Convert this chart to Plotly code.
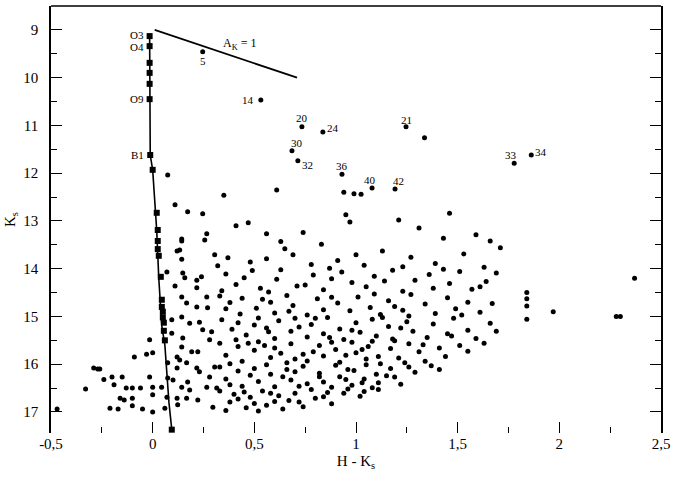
import plotly.graph_objects as go

# ---- ZAMS (line) and spectral-type squares ----
zams_x = [-0.015, -0.015, -0.012, 0.0, 0.02, 0.03, 0.045, 0.06, 0.07, 0.08, 0.094]
zams_y = [9.1, 10.45, 11.62, 11.93, 13.2, 14.2, 15.2, 15.6, 16.3, 16.8, 17.37]

sq_x = [-0.015, -0.015, -0.015, -0.015, -0.015, -0.015, -0.012, 0.0, 0.02, 0.025, 0.025,
        0.025, 0.03, 0.04, 0.045, 0.045, 0.05, 0.05, 0.055, 0.055, 0.06, 0.094]
sq_y = [9.13, 9.34, 9.69, 9.9, 10.13, 10.45, 11.62, 11.93, 12.83, 13.19, 13.42,
        13.59, 13.73, 14.17, 14.65, 14.8, 14.9, 15.02, 15.13, 15.3, 15.5, 17.37]

sp_labels = ["O3", "O4", "O9", "B1"]
sp_x = [-0.015, -0.015, -0.015, -0.012]
sp_y = [9.13, 9.34, 10.45, 11.62]

# ---- reddening vector ----
red_x = [0.01, 0.71]
red_y = [9.0, 10.0]

# ---- labelled stars ----
lab_names = ["5", "14", "20", "24", "30", "32", "36", "40", "42", "21", "33", "34"]
lab_x = [0.246, 0.532, 0.734, 0.837, 0.685, 0.714, 0.931, 1.079, 1.192, 1.246, 1.778, 1.862]
lab_y = [9.46, 10.47, 11.03, 11.14, 11.53, 11.74, 12.02, 12.31, 12.33, 11.03, 11.79, 11.62]

# ---- field stars near the ZAMS (H-K, Ks) ----
blue_x = [0.074, 0.11, 0.172, 0.246, 0.266, 0.256, 0.143, 0.143, 0.133, 0.12, 0.143, 0.305,
          0.07, 0.148, 0.158, 0.217, 0.24, 0.11, 0.217, 0.266, 0.143, 0.167, 0.217, 0.27,
          0.094, 0.143, 0.182, 0.246, 0.29, 0.23, 0.094, -0.015, 0.148, 0.28, 0.143, 0.192,
          0.222, -0.03, 0.0, -0.09, 0.12, 0.074, 0.133, 0.167, 0.305, 0.12, 0.217, -0.26,
          -0.2, -0.15, 0.23, 0.28, 0.074, 0.1, 0.172, -0.19, -0.13, -0.1, -0.06, -0.015,
          0.0, 0.044, 0.143, 0.182, 0.266, 0.315, -0.16, -0.14, -0.1, 0.0, 0.07, 0.12,
          0.167, 0.222, -0.21, -0.17, -0.1, -0.05, 0.0, 0.06, 0.123, 0.296, -0.47,
          -0.33, -0.29, -0.27, -0.24]
blue_y = [12.04, 12.66, 12.81, 12.85, 13.27, 13.4, 13.38, 13.42, 13.61, 13.63, 13.8, 13.71,
          14.07, 14.09, 14.19, 14.24, 14.17, 14.36, 14.4, 14.59, 14.59, 14.72, 14.8, 14.82,
          15.07, 15.01, 15.14, 15.28, 15.32, 15.12, 15.35, 15.49, 15.45, 15.49, 15.64, 15.74,
          15.74, 15.79, 15.76, 15.85, 15.85, 15.97, 15.91, 15.97, 16.06, 16.08, 16.08, 16.1,
          16.27, 16.27, 16.16, 16.27, 16.29, 16.33, 16.37, 16.43, 16.5, 16.5, 16.5, 16.27,
          16.48, 16.48, 16.48, 16.54, 16.48, 16.5, 16.71, 16.75, 16.71, 16.64, 16.69, 16.71,
          16.71, 16.75, 16.92, 16.94, 16.87, 16.94, 17.0, 16.92, 16.85, 16.9, 16.94,
          16.52, 16.08, 16.1, 16.32]

# ---- redder field stars, as (H-K, Ks) pairs by magnitude band ----
band_upper = [(1.337, 11.26), (1.025, 12.44), (0.61, 12.35), (0.35, 12.46), (0.94, 12.40),
              (0.99, 12.43), (0.95, 12.87), (0.97, 13.02), (1.21, 12.98), (1.46, 12.84),
              (0.47, 13.04), (0.41, 13.1), (0.56, 13.27), (1.59, 13.29), (0.83, 13.49),
              (0.63, 13.43), (1.43, 13.36), (0.65, 13.58), (0.69, 13.71), (1.71, 13.56),
              (1.27, 13.76), (1.13, 13.63), (1.53, 13.69), (0.37, 13.77), (0.48, 13.86),
              (0.56, 13.79), (0.78, 13.91), (0.91, 13.83), (1.04, 13.93), (1.23, 13.96),
              (1.39, 13.89), (1.63, 13.97), (0.32, 13.94), (0.87, 13.99), (1.66, 13.42),
              (1.0, 13.71), (0.74, 13.24), (1.31, 13.15)]
band_14 = [(0.36, 14.11), (0.41, 14.33), (0.49, 14.04), (0.53, 14.41), (0.61, 14.22),
           (0.63, 14.02), (0.71, 14.36), (0.79, 14.13), (0.84, 14.44), (0.93, 14.07),
           (0.98, 14.29), (1.05, 14.38), (1.09, 14.16), (1.18, 14.03), (1.23, 14.47),
           (1.29, 14.24), (1.36, 14.12), (1.38, 14.41), (1.46, 14.31), (1.51, 14.06),
           (1.57, 14.43), (1.64, 14.27), (1.69, 14.09), (0.34, 14.46), (0.45, 14.19),
           (0.57, 14.49), (0.75, 14.34), (0.88, 14.21), (1.14, 14.26), (1.61, 14.38),
           (1.84, 14.5), (2.37, 14.2), (1.43, 14.01)]
band_145 = [(0.33, 14.57), (0.38, 14.71), (0.44, 14.62), (0.51, 14.83), (0.54, 14.64),
            (0.6, 14.93), (0.66, 14.56), (0.69, 14.77), (0.76, 14.97), (0.81, 14.63),
            (0.84, 14.86), (0.91, 14.72), (0.97, 14.88), (1.01, 14.59), (1.07, 14.81),
            (1.12, 14.96), (1.16, 14.67), (1.23, 14.87), (1.27, 14.54), (1.34, 14.74),
            (1.39, 14.94), (1.45, 14.61), (1.49, 14.84), (1.55, 14.7), (1.61, 14.91),
            (1.67, 14.73), (1.84, 14.63), (1.84, 14.78), (1.97, 14.9), (0.43, 14.95),
            (0.67, 14.89), (1.26, 14.99), (0.36, 14.84), (1.09, 14.53), (0.58, 14.7),
            (0.88, 14.6), (1.19, 14.79), (1.52, 14.97)]
band_15 = [(0.34, 15.07), (0.39, 15.27), (0.42, 15.13), (0.46, 15.39), (0.52, 15.03),
           (0.56, 15.24), (0.6, 15.46), (0.62, 15.09), (0.68, 15.31), (0.7, 15.04),
           (0.76, 15.43), (0.78, 15.17), (0.84, 15.36), (0.86, 15.02), (0.92, 15.26),
           (0.94, 15.48), (1.0, 15.13), (1.02, 15.33), (1.08, 15.06), (1.1, 15.41),
           (1.16, 15.21), (1.18, 15.47), (1.25, 15.11), (1.28, 15.31), (1.35, 15.44),
           (1.38, 15.16), (1.45, 15.36), (1.48, 15.04), (1.55, 15.29), (1.59, 15.46),
           (1.66, 15.14), (1.69, 15.31), (1.84, 15.06), (2.28, 15.0), (2.3, 15.0),
           (0.41, 15.49), (0.72, 15.22), (0.98, 15.29), (1.22, 15.24), (1.47, 15.41),
           (0.57, 15.32), (0.87, 15.44), (0.5, 15.18), (0.8, 15.04), (1.13, 15.02)]
band_155 = [(0.33, 15.56), (0.36, 15.81), (0.42, 15.63), (0.44, 15.94), (0.5, 15.71),
            (0.52, 15.53), (0.58, 15.86), (0.6, 15.66), (0.66, 15.97), (0.68, 15.57),
            (0.74, 15.79), (0.76, 15.93), (0.82, 15.61), (0.84, 15.83), (0.9, 15.69),
            (0.92, 15.96), (0.98, 15.54), (1.0, 15.76), (1.05, 15.89), (1.06, 15.63),
            (1.11, 15.84), (1.12, 15.99), (1.17, 15.67), (1.21, 15.87), (1.26, 15.57),
            (1.31, 15.74), (1.34, 15.94), (1.41, 15.66), (1.44, 15.84), (1.51, 15.61),
            (1.55, 15.73), (1.63, 15.56), (0.38, 15.99), (0.55, 15.61), (0.7, 15.89),
            (0.88, 15.54), (1.03, 15.69), (1.19, 15.51), (1.33, 15.59), (0.47, 15.56),
            (0.79, 15.74), (0.95, 15.81), (1.08, 15.52), (0.63, 15.77), (1.24, 15.97)]
band_16 = [(0.33, 16.06), (0.36, 16.31), (0.42, 16.14), (0.44, 16.46), (0.5, 16.09),
           (0.52, 16.36), (0.58, 16.21), (0.6, 16.47), (0.66, 16.11), (0.68, 16.33),
           (0.74, 16.04), (0.76, 16.41), (0.82, 16.19), (0.84, 16.37), (0.9, 16.02),
           (0.92, 16.26), (0.98, 16.44), (0.99, 16.13), (1.04, 16.31), (1.05, 16.01),
           (1.1, 16.21), (1.11, 16.39), (1.17, 16.09), (1.19, 16.27), (1.26, 16.06),
           (1.29, 16.17), (1.37, 16.03), (1.41, 16.11), (0.38, 16.43), (0.56, 16.01),
           (0.72, 16.46), (0.82, 16.26), (0.96, 16.11), (1.08, 16.49), (1.15, 16.24),
           (0.64, 16.26), (0.48, 16.23), (1.03, 16.39), (0.88, 16.48), (0.7, 16.16),
           (1.22, 16.42), (0.95, 16.32)]
band_165 = [(0.33, 16.56), (0.38, 16.79), (0.4, 16.63), (0.46, 16.91), (0.48, 16.69),
            (0.54, 16.56), (0.56, 16.86), (0.62, 16.66), (0.64, 16.94), (0.7, 16.61),
            (0.72, 16.79), (0.78, 16.53), (0.8, 16.71), (0.86, 16.59), (0.88, 16.83),
            (0.94, 16.61), (0.96, 16.52), (1.02, 16.67), (1.04, 16.57), (1.11, 16.53),
            (0.42, 16.73), (0.58, 16.61), (0.74, 16.89), (0.52, 16.98), (0.36, 16.97),
            (0.67, 16.76), (0.5, 16.82), (0.6, 16.78), (0.84, 16.68), (0.45, 16.58)]

red_pts = band_upper + band_14 + band_145 + band_15 + band_155 + band_16 + band_165
red_side_x = [p[0] for p in red_pts]
red_side_y = [p[1] for p in red_pts]

FONT = "Liberation Serif"

fig = go.Figure()

fig.add_trace(go.Scatter(x=zams_x, y=zams_y, mode="lines",
                         line=dict(color="black", width=1.6), hoverinfo="skip"))
fig.add_trace(go.Scatter(x=sq_x, y=sq_y, mode="markers",
                         marker=dict(symbol="square", size=6, color="black")))
fig.add_trace(go.Scatter(x=red_x, y=red_y, mode="lines",
                         line=dict(color="black", width=1.8)))
fig.add_trace(go.Scatter(x=blue_x, y=blue_y, mode="markers",
                         marker=dict(symbol="circle", size=5, color="black")))
fig.add_trace(go.Scatter(x=red_side_x, y=red_side_y, mode="markers",
                         marker=dict(symbol="circle", size=5, color="black")))
fig.add_trace(go.Scatter(x=lab_x, y=lab_y, mode="markers",
                         marker=dict(symbol="circle", size=5, color="black")))

# spectral type labels
sp_dy = {"O3": 1, "O4": -1, "O9": 0, "B1": 0}
for t, x, y in zip(sp_labels, sp_x, sp_y):
    fig.add_annotation(x=x, y=y, text=t, showarrow=False, xanchor="right", xshift=-4,
                       yshift=sp_dy[t], font=dict(family=FONT, size=11, color="black"))

# star number labels (offsets in pixels)
offs = {"5": (0, -9), "14": (-13, 0), "20": (0, 9), "24": (10, 4), "30": (5, 8),
        "32": (10, -4), "36": (0, 8), "40": (-2, 8), "42": (3, 8), "21": (0, 7),
        "33": (-3, 8), "34": (10, 3)}
for t, x, y in zip(lab_names, lab_x, lab_y):
    dx, dy = offs[t]
    fig.add_annotation(x=x, y=y, text=t, showarrow=False, xshift=dx, yshift=dy,
                       font=dict(family=FONT, size=11, color="black"))

fig.add_annotation(x=0.43, y=9.29, text="A<sub>K</sub> = 1", showarrow=False,
                   font=dict(family=FONT, size=12, color="black"))

# top border (no bottom line in the original)
fig.add_shape(type="line", xref="paper", yref="paper", x0=0, x1=1, y0=1, y1=1,
              line=dict(color="black", width=1.5))

fig.update_layout(
    width=677, height=483,
    margin=dict(l=51, r=16, t=6, b=50, autoexpand=False),
    paper_bgcolor="white", plot_bgcolor="white",
    showlegend=False,
    font=dict(family=FONT, size=15, color="black"),
)
fig.update_xaxes(
    range=[-0.5, 2.5], tickvals=[-0.5, 0, 0.5, 1, 1.5, 2, 2.5],
    ticktext=["-0,5", "0", "0,5", "1", "1,5", "2", "2,5"],
    ticks="inside", ticklen=11, tickwidth=1.3, tickcolor="black",
    minor=dict(dtick=0.25, ticks="inside", ticklen=6, tickwidth=1.3, tickcolor="black"),
    showline=False, showgrid=False, zeroline=False, automargin=False,
    title=dict(text="H - K<sub>s</sub>", standoff=4, font=dict(family=FONT, size=15)),
    tickfont=dict(family=FONT, size=15),
)
fig.update_yaxes(
    range=[17.44, 8.5], tickvals=list(range(9, 18)),
    ticks="inside", ticklen=11, tickwidth=1.3, tickcolor="black",
    minor=dict(dtick=0.5, ticks="inside", ticklen=6, tickwidth=1.3, tickcolor="black"),
    showline=True, linecolor="black", linewidth=1.5, mirror="ticks",
    showgrid=False, zeroline=False, automargin=False,
    title=dict(text="K<sub>s</sub>", standoff=4, font=dict(family=FONT, size=15)),
    tickfont=dict(family=FONT, size=15), ticklabelstandoff=8,
)

fig.write_html("out.html", config={"displayModeBar": False},
               post_script="document.body.style.margin='0px';document.body.style.overflow='hidden';")
